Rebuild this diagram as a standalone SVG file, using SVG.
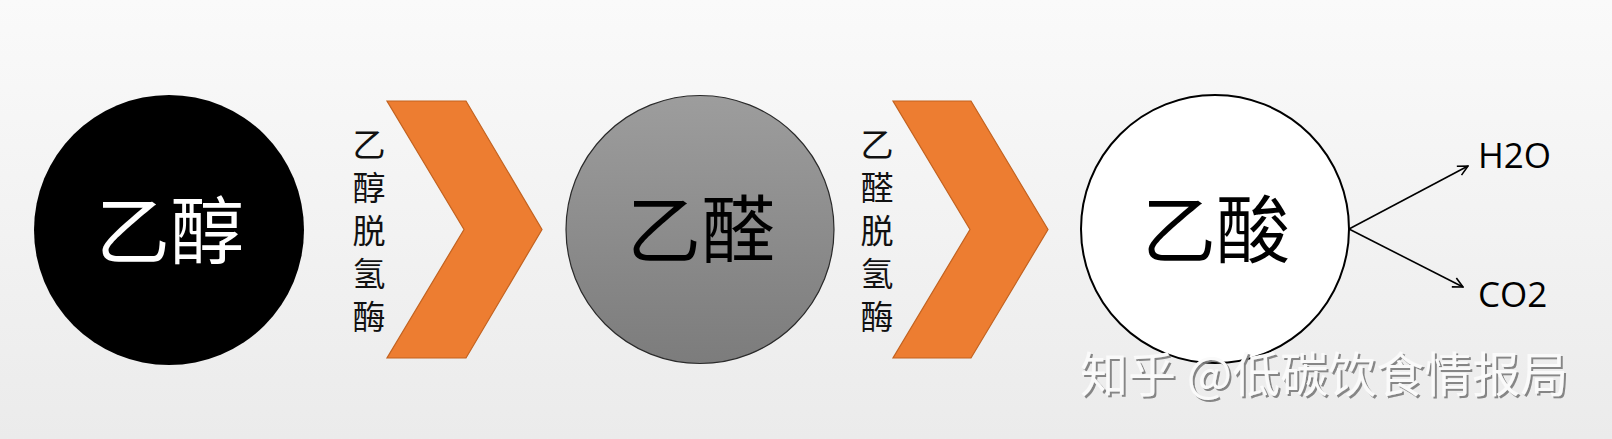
<svg xmlns="http://www.w3.org/2000/svg" width="1612" height="439" viewBox="0 0 1612 439">
<defs>
<linearGradient id="bg" x1="0" y1="0" x2="0" y2="1">
<stop offset="0" stop-color="#fafafa"/>
<stop offset="1" stop-color="#ebebeb"/>
</linearGradient>
<linearGradient id="gray" x1="0" y1="0" x2="0" y2="1">
<stop offset="0" stop-color="#9d9d9d"/>
<stop offset="1" stop-color="#7c7c7c"/>
</linearGradient>
<marker id="open" viewBox="0 0 12 12" refX="11" refY="6" markerWidth="12" markerHeight="12" markerUnits="userSpaceOnUse" orient="auto">
<path d="M1,1 L11,6 L1,11" fill="none" stroke="#000" stroke-width="1.6"/>
</marker>
<filter id="sh" x="-5%" y="-20%" width="110%" height="140%">
<feDropShadow dx="2" dy="2" stdDeviation="0.6" flood-color="#7a7a7a" flood-opacity="0.9"/>
</filter>
</defs>
<style>
.cjk{font-family:"Noto Sans CJK SC","Noto Sans",sans-serif;}
.big{font-size:74px;text-anchor:middle;}
.vl{font-size:33px;text-anchor:middle;fill:#111;}
.chev{fill:#ed7d31;stroke:#c3621f;stroke-width:1.2;}
.lat{font-family:"Open Sans","Noto Sans",sans-serif;font-size:35px;fill:#000;}
.conn{stroke:#000;stroke-width:1.6;fill:none;}
</style>
<rect width="1612" height="439" fill="url(#bg)"/>

<g id="node-ethanol">
<circle cx="169" cy="230" r="135" fill="#000"/>
<text class="cjk big" x="170" y="257.5" fill="#fff">乙醇</text>
</g>

<g id="enzyme-1">
<polygon class="chev" points="387,101 466,101 542,229.5 466,358 387,358 464,229.5"/>
<text class="cjk vl" x="369" y="156.5">乙</text>
<text class="cjk vl" x="369" y="200">醇</text>
<text class="cjk vl" x="369" y="243">脱</text>
<text class="cjk vl" x="369" y="286">氢</text>
<text class="cjk vl" x="369" y="329">酶</text>
</g>

<g id="node-acetaldehyde">
<circle cx="700" cy="229.5" r="134" fill="url(#gray)" stroke="#2a2a2a" stroke-width="1.2"/>
<text class="cjk big" x="701" y="257" fill="#000">乙醛</text>
</g>

<g id="enzyme-2">
<polygon class="chev" points="893,101 971,101 1048,229.5 971,358 893,358 970,229.5"/>
<text class="cjk vl" x="877" y="156.5">乙</text>
<text class="cjk vl" x="877" y="200">醛</text>
<text class="cjk vl" x="877" y="243">脱</text>
<text class="cjk vl" x="877" y="286">氢</text>
<text class="cjk vl" x="877" y="329">酶</text>
</g>

<g id="node-acetic-acid">
<circle cx="1215" cy="229" r="134" fill="#fff" stroke="#000" stroke-width="2"/>
<text class="cjk big" x="1216" y="257" fill="#000">乙酸</text>
</g>

<g id="node-h2o">
<text class="lat" x="1478" y="168">H2O</text>
</g>
<g id="node-co2">
<text class="lat" x="1478" y="307">CO2</text>
</g>

<g id="connectors">
<line class="conn" x1="1349" y1="229" x2="1468" y2="166" marker-end="url(#open)"/>
<line class="conn" x1="1349" y1="229" x2="1463" y2="287" marker-end="url(#open)"/>
</g>

<text class="cjk" x="1080" y="392" font-size="48" fill="#fafafa" filter="url(#sh)">知乎 @低碳饮食情报局</text>
</svg>
